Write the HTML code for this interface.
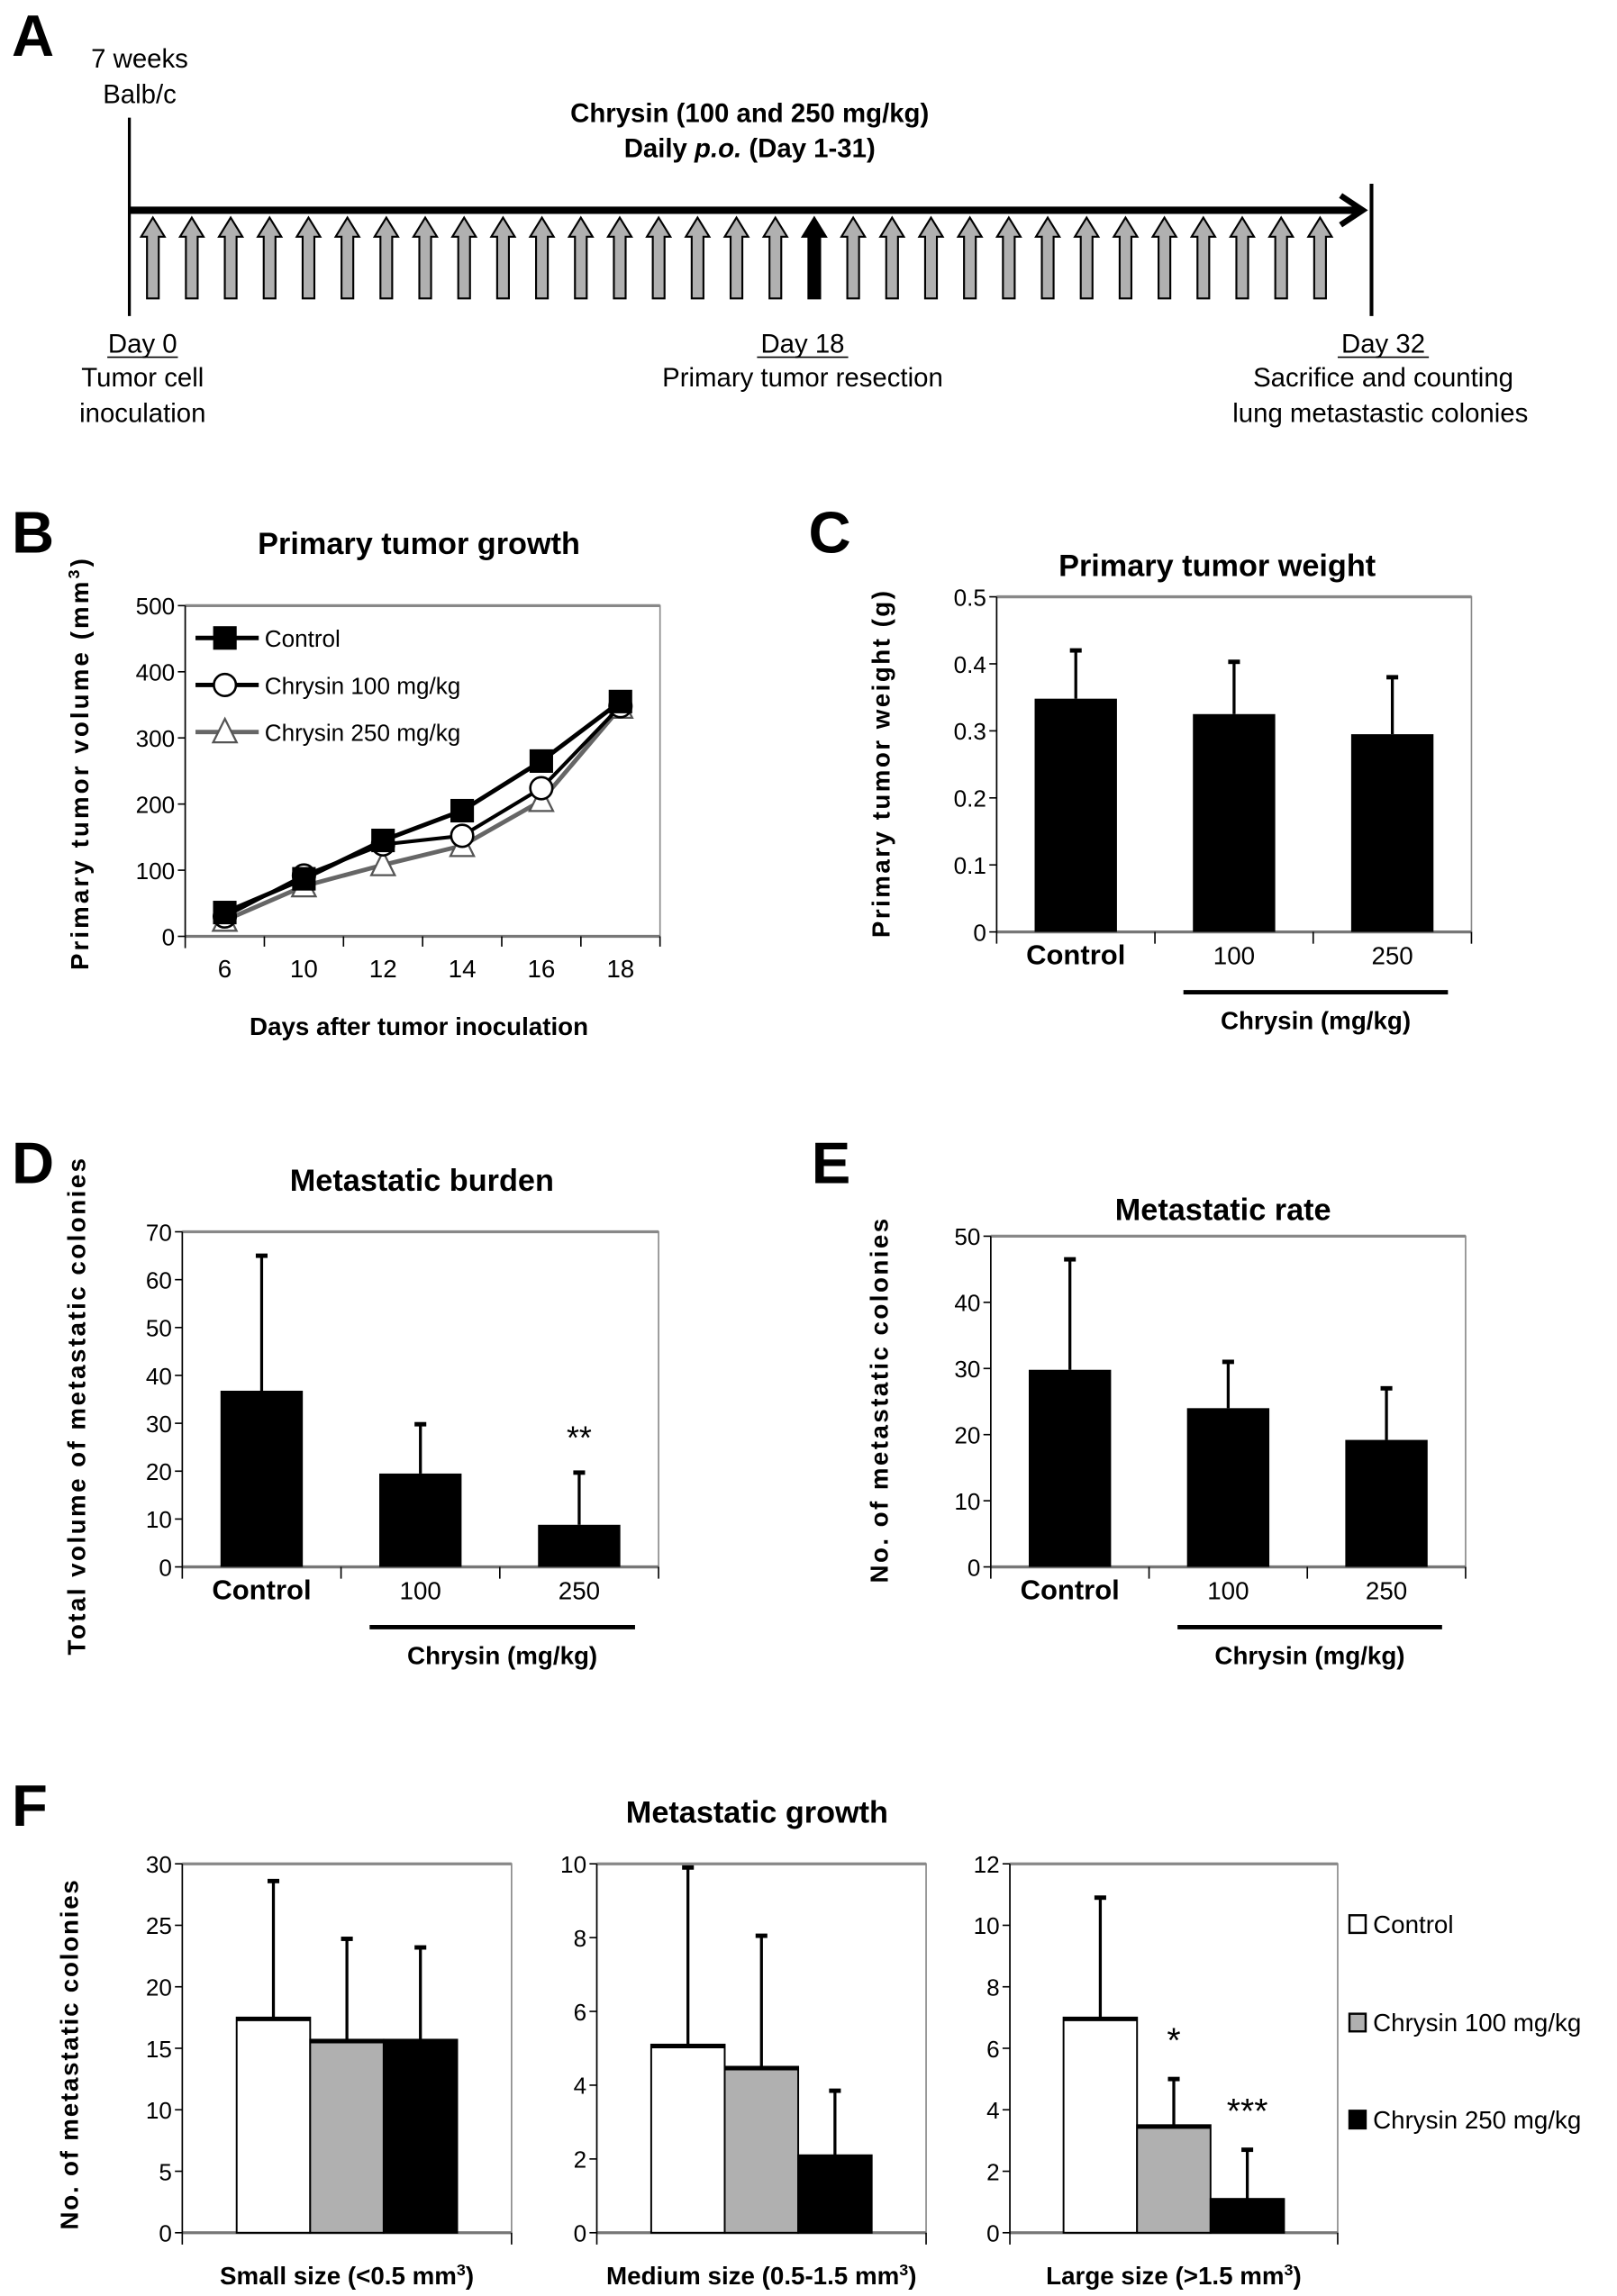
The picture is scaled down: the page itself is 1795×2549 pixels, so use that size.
<!DOCTYPE html>
<html><head><meta charset="utf-8"><style>
html,body{margin:0;padding:0;background:#fff}
svg{display:block;font-family:"Liberation Sans",Arial,sans-serif}
</style></head><body>
<svg id="fig" xmlns="http://www.w3.org/2000/svg" width="1795" height="2549" viewBox="0 0 1100 1562">
<rect x="0" y="0" width="1100" height="1562" fill="#fff"/>
<g>
<text x="8" y="38" font-size="40" font-weight="bold">A</text>
<text x="95" y="46" font-size="18" text-anchor="middle">7 weeks</text>
<text x="95" y="70" font-size="18" text-anchor="middle">Balb/c</text>
<text x="510" y="83" font-size="18" font-weight="bold" text-anchor="middle">Chrysin (100 and 250 mg/kg)</text>
<text x="510" y="107" font-size="18" font-weight="bold" text-anchor="middle">Daily <tspan font-style="italic">p.o.</tspan> (Day 1-31)</text>
<line x1="88" y1="80" x2="88" y2="215" stroke="#000" stroke-width="2"/>
<line x1="933" y1="125" x2="933" y2="215" stroke="#000" stroke-width="2.5"/>
<line x1="88" y1="143" x2="925" y2="143" stroke="#000" stroke-width="5"/>
<polyline points="912,133 927,143 912,153" fill="none" stroke="#000" stroke-width="4"/>
<g id="dosearrows"></g>
<text x="97" y="240" font-size="18" text-anchor="middle">Day 0</text>
<line x1="73" y1="243" x2="121" y2="243" stroke="#000" stroke-width="1"/>
<text x="97" y="263" font-size="18" text-anchor="middle">Tumor cell</text>
<text x="97" y="287" font-size="18" text-anchor="middle">inoculation</text>
<text x="546" y="240" font-size="18" text-anchor="middle">Day 18</text>
<line x1="515" y1="243" x2="577" y2="243" stroke="#000" stroke-width="1"/>
<text x="546" y="263" font-size="18" text-anchor="middle">Primary tumor resection</text>
<text x="941" y="240" font-size="18" text-anchor="middle">Day 32</text>
<line x1="910" y1="243" x2="972" y2="243" stroke="#000" stroke-width="1"/>
<text x="941" y="263" font-size="18" text-anchor="middle">Sacrifice and counting</text>
<text x="939" y="287" font-size="18" text-anchor="middle">lung metastastic colonies</text>
</g>
<text x="8" y="376" font-size="40" font-weight="bold">B</text>
<text x="285" y="377" font-size="21" font-weight="bold" text-anchor="middle">Primary tumor growth</text>
<text transform="translate(60,520) rotate(-90)" font-size="17" font-weight="bold" text-anchor="middle" textLength="280" lengthAdjust="spacing">Primary tumor volume (mm<tspan baseline-shift="super" font-size="11">3</tspan>)</text>
<text x="285" y="704" font-size="17" font-weight="bold" text-anchor="middle">Days after tumor inoculation</text>
<text x="550" y="376" font-size="40" font-weight="bold">C</text>
<text x="828" y="392" font-size="21" font-weight="bold" text-anchor="middle">Primary tumor weight</text>
<text transform="translate(605,520) rotate(-90)" font-size="17" font-weight="bold" text-anchor="middle" textLength="236" lengthAdjust="spacing">Primary tumor weight (g)</text>
<text x="8" y="805" font-size="40" font-weight="bold">D</text>
<text x="287" y="810" font-size="21" font-weight="bold" text-anchor="middle">Metastatic burden</text>
<text transform="translate(58,957) rotate(-90)" font-size="17" font-weight="bold" text-anchor="middle" textLength="338" lengthAdjust="spacing">Total volume of metastatic colonies</text>
<text x="552" y="805" font-size="40" font-weight="bold">E</text>
<text x="832" y="830" font-size="21" font-weight="bold" text-anchor="middle">Metastatic rate</text>
<text transform="translate(604,953) rotate(-90)" font-size="17" font-weight="bold" text-anchor="middle" textLength="248" lengthAdjust="spacing">No. of metastatic colonies</text>
<text x="8" y="1242" font-size="40" font-weight="bold">F</text>
<text x="515" y="1240" font-size="21" font-weight="bold" text-anchor="middle">Metastatic growth</text>
<text transform="translate(53,1398) rotate(-90)" font-size="17" font-weight="bold" text-anchor="middle" textLength="238" lengthAdjust="spacing">No. of metastatic colonies</text>
<g id="charts"></g>
</svg>
<script>
const NS='http://www.w3.org/2000/svg';
const root=document.getElementById('charts');
function mk(tag,attrs,parent){const e=document.createElementNS(NS,tag);for(const k in attrs)e.setAttribute(k,attrs[k]);(parent||root).appendChild(e);return e;}

const doseDays=31, resectionIndex=17;

const bDays=['6','10','12','14','16','18'];
const bControl=[36,87,145,190,265,355];
const bC100=[30,92,139,152,224,348];
const bC250=[24,76,108,137,205,346];
const bTicks=[0,100,200,300,400,500];

const cCats=['Control','100','250'];
const cMeans=[0.348,0.325,0.295];
const cErr=[0.42,0.403,0.38];
const cTicks=['0','0.1','0.2','0.3','0.4','0.5'];

const dMeans=[36.8,19.5,8.8];
const dErr=[65,29.8,19.7];
const dTicks=['0','10','20','30','40','50','60','70'];

const eMeans=[29.8,24,19.2];
const eErr=[46.5,31,27];
const eTicks=['0','10','20','30','40','50'];

const fGroups=['Small size (<0.5 mm','Medium size (0.5-1.5 mm','Large size (>1.5 mm'];
const fSeries=['Control','Chrysin 100 mg/kg','Chrysin 250 mg/kg'];
const fControl=[17.5,5.1,7.0];
const fC100=[15.7,4.5,3.5];
const fC250=[15.7,2.1,1.1];
const fControlErr=[28.6,9.9,10.9];
const fC100Err=[23.9,8.05,5.0];
const fC250Err=[23.2,3.85,2.7];
const fMax=[30,10,12];
const fStep=[5,2,2];

const ag=document.getElementById('dosearrows');
for(let i=0;i<doseDays;i++){
  const cx=104+i*(898-104)/(doseDays-1);
  const black=i===resectionIndex;
  const p=mk('path',{d:'M'+cx+' 148 L'+(cx+8)+' 161 L'+(cx+4)+' 161 L'+(cx+4)+' 203 L'+(cx-4)+' 203 L'+(cx-4)+' 161 L'+(cx-8)+' 161 Z',fill:black?'#000':'#b0b0b0',stroke:'#000','stroke-width':1.3},ag);
  
  
}

function frame(g,x0,x1,yt,yb,name){
  const r=mk('rect',{x:x0,y:yt,width:x1-x0,height:yb-yt,fill:'none',stroke:'#888','stroke-width':1},g);
  
  
  mk('line',{x1:x0,y1:yt,x2:x1,y2:yt,stroke:'#888','stroke-width':2},g);
  const xa=mk('line',{x1:x0,y1:yb,x2:x1,y2:yb,stroke:'#777','stroke-width':2},g);
  
  
  const ya=mk('line',{x1:x0,y1:yt,x2:x0,y2:yb+8,stroke:'#000','stroke-width':1},g);
  
  
}
function yAxis(g,x0,yt,yb,labels,max,name){
  labels.forEach(function(lab){
    const v=parseFloat(lab);const y=yb-(v/max)*(yb-yt);
    mk('line',{x1:x0-5,y1:y,x2:x0,y2:y,stroke:'#000','stroke-width':1},g);
    const t=mk('text',{x:x0-7,y:y+6,'font-size':16,'text-anchor':'end'},g);
    t.textContent=lab;
    
    
  });
}
function errBar(g,cx,ytop,yv,name){
  const l=mk('line',{x1:cx,y1:ytop,x2:cx,y2:yv,stroke:'#000','stroke-width':2},g);
  
  
  mk('line',{x1:cx-4,y1:ytop,x2:cx+4,y2:ytop,stroke:'#000','stroke-width':3},g);
}
function marker(g,m,x,y,nm){
  let e;
  if(m==='sq') e=mk('rect',{x:x-8,y:y-8,width:16,height:16,fill:'#000'},g);
  else if(m==='circ') e=mk('circle',{cx:x,cy:y,r:7.5,fill:'#fff',stroke:'#000','stroke-width':1.6},g);
  else e=mk('path',{d:'M'+x+' '+(y-9)+' L'+(x+8)+' '+(y+7)+' L'+(x-8)+' '+(y+7)+' Z',fill:'#fff',stroke:'#555','stroke-width':1.4},g);
  
  
}

(function(){
  const g=mk('g',{});
  
  
  const x0=126,x1=449,yt=412,yb=637,max=500;
  frame(g,x0,x1,yt,yb,'chart-b');
  yAxis(g,x0,yt,yb,bTicks.map(String),max,'chart-b');
  const n=bDays.length,bw=(x1-x0)/n;
  const X=function(i){return x0+(i+0.5)*bw;}, Y=function(v){return yb-v/max*(yb-yt);};
  for(let i=1;i<=n;i++) mk('line',{x1:x0+i*bw,y1:yb,x2:x0+i*bw,y2:yb+7,stroke:'#000','stroke-width':1},g);
  bDays.forEach(function(d,i){
    const t=mk('text',{x:X(i),y:665,'font-size':17,'text-anchor':'middle'},g);t.textContent=d;
    
    
  });
  const series=[[bC250,'#666',3,'tri','c250'],[bC100,'#000',2.5,'circ','c100'],[bControl,'#000',3,'sq','control']];
  series.forEach(function(s){
    const vals=s[0],col=s[1],w=s[2],m=s[3],nm=s[4];
    const pl=mk('polyline',{points:vals.map(function(v,i){return X(i)+','+Y(v);}).join(' '),fill:'none',stroke:col,'stroke-width':w},g);
    
    
    vals.forEach(function(v,i){marker(g,m,X(i),Y(v),nm);});
  });
  const leg=[['Control','sq','#000',434],['Chrysin 100 mg/kg','circ','#000',466],['Chrysin 250 mg/kg','tri','#666',498]];
  leg.forEach(function(L){
    mk('line',{x1:133,y1:L[3],x2:176,y2:L[3],stroke:L[2],'stroke-width':3},g);
    marker(g,L[1],153,L[3],'legend');
    const t=mk('text',{x:180,y:L[3]+6,'font-size':16},g);t.textContent=L[0];
    
    
  });
})();

function barPanel(name,x0,x1,yt,yb,max,ticks,means,errs,star){
  const g=mk('g',{});
  
  
  frame(g,x0,x1,yt,yb,name);
  yAxis(g,x0,yt,yb,ticks,max,name);
  const n=cCats.length,cw=(x1-x0)/n,bw=56;
  const Y=function(v){return yb-v/max*(yb-yt);};
  for(let i=1;i<=n;i++) mk('line',{x1:x0+i*cw,y1:yb,x2:x0+i*cw,y2:yb+8,stroke:'#000','stroke-width':1},g);
  means.forEach(function(v,i){
    const cx=x0+(i+0.5)*cw;
    errBar(g,cx,Y(errs[i]),Y(v),name+'-error-bar');
    const r=mk('rect',{x:cx-bw/2,y:Y(v),width:bw,height:yb-Y(v),fill:'#000'},g);
    
    
    const t=mk('text',{x:cx,y:yb+22,'font-size':i===0?19:17,'font-weight':i===0?'bold':'normal','text-anchor':'middle'},g);
    t.textContent=cCats[i];
    
    
    if(star&&star[i]){
      const s=mk('text',{x:cx,y:Y(errs[i])-16,'font-size':22,'text-anchor':'middle'},g);s.textContent=star[i];
      
      
    }
  });
  const ln=mk('line',{x1:x0+cw*1.18,y1:yb+41,x2:x1-16,y2:yb+41,stroke:'#000','stroke-width':3},g);
  
  
  const gl=mk('text',{x:(x0+cw*1.18+x1-16)/2,y:yb+66,'font-size':17,'font-weight':'bold','text-anchor':'middle'},g);
  gl.textContent='Chrysin (mg/kg)';
  
  
}
barPanel('chart-c',678,1001,406,634,0.5,cTicks,cMeans,cErr,null);
barPanel('chart-d',124,448,838,1066,70,dTicks,dMeans,dErr,['','','**']);
barPanel('chart-e',674,997,841,1066,50,eTicks,eMeans,eErr,null);

(function(){
  const boxes=[[124,348],[406,630],[687,910]];
  const yt=1268,yb=1519;
  const fills=['#fff','#b0b0b0','#000'];
  const stars=[['','',''],['','',''],['','*','***']];
  boxes.forEach(function(bx2,k){
    const x0=bx2[0],x1=bx2[1];
    const g=mk('g',{});
    
    
    frame(g,x0,x1,yt,yb,'chart-f');
    const ticks=[];for(let v=0;v<=fMax[k];v+=fStep[k])ticks.push(String(v));
    yAxis(g,x0,yt,yb,ticks,fMax[k],'chart-f');
    mk('line',{x1:x1,y1:yb,x2:x1,y2:yb+8,stroke:'#000','stroke-width':1},g);
    const Y=function(v){return yb-v/fMax[k]*(yb-yt);};
    const vals=[fControl[k],fC100[k],fC250[k]],errs=[fControlErr[k],fC100Err[k],fC250Err[k]];
    const bw=50,start=(x0+x1)/2-75;
    vals.forEach(function(v,i){
      const bx=start+i*bw,cx=bx+bw/2;
      errBar(g,cx,Y(errs[i]),Y(v),'chart-f-error-bar');
      const r=mk('rect',{x:bx,y:Y(v),width:bw,height:yb-Y(v),fill:fills[i],stroke:'#000','stroke-width':1.2},g);
      
      
      mk('line',{x1:bx,y1:Y(v)+1,x2:bx+bw,y2:Y(v)+1,stroke:'#000','stroke-width':3},g);
      if(stars[k][i]){
        const s=mk('text',{x:cx,y:Y(errs[i])-18,'font-size':24,'text-anchor':'middle'},g);
        s.textContent=stars[k][i];
        
        
      }
    });
    const t=mk('text',{x:(x0+x1)/2,y:1554,'font-size':17,'font-weight':'bold','text-anchor':'middle'},g);
    t.textContent=fGroups[k];
    const sup=mk('tspan',{'baseline-shift':'super','font-size':11},t);sup.textContent='3';
    const cl=mk('tspan',{},t);cl.textContent=')';
    
    
  });
  const legY=[1309,1376,1442];
  fSeries.forEach(function(s,i){
    const r=mk('rect',{x:918,y:legY[i]-6,width:11,height:12,fill:fills[i],stroke:'#000','stroke-width':1.5});
    
    
    const t=mk('text',{x:934,y:legY[i]+6,'font-size':17});t.textContent=s;
    
    
  });
})();
</script>
</body></html>
